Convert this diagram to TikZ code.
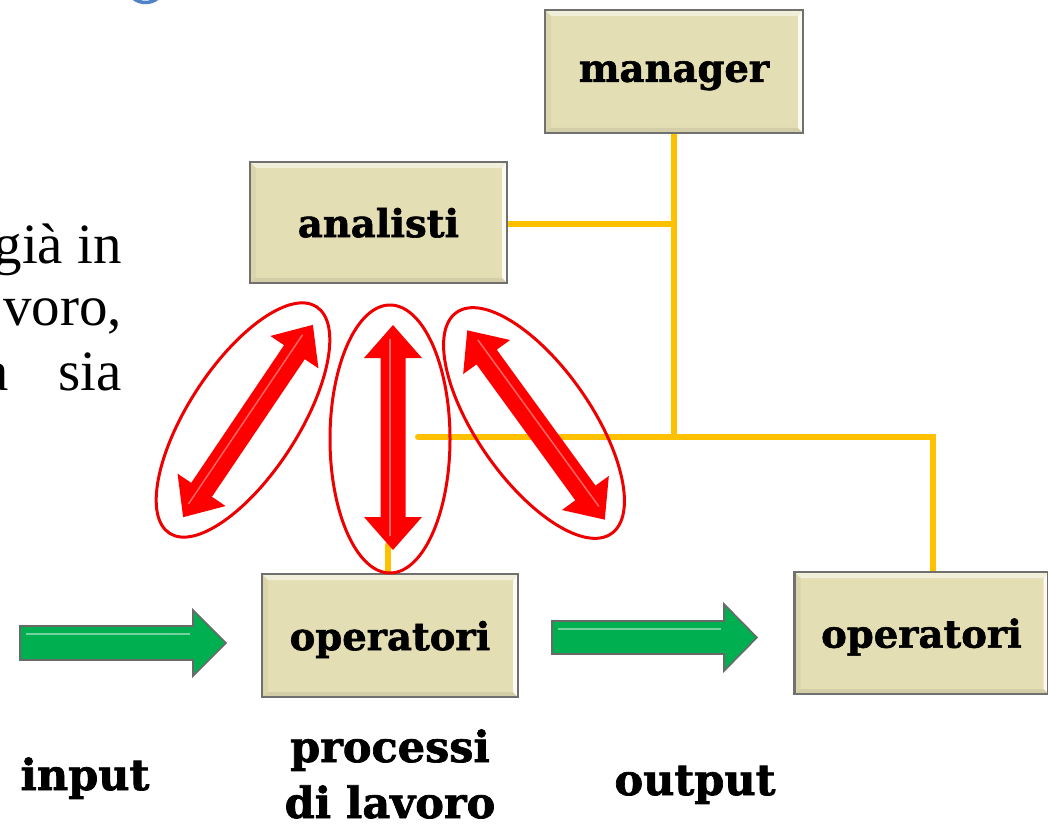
\documentclass[tikz,border=0pt]{standalone}
\usepackage{fontspec}
\setmainfont{Liberation Serif}
\newfontfamily\labelfont{DejaVu Serif}[BoldFeatures={FakeBold=1.6}]

\definecolor{boxfill}{RGB}{228,222,180}
\definecolor{boxline}{RGB}{112,112,112}
\definecolor{linkgold}{RGB}{255,192,0}
\definecolor{flowgreen}{RGB}{0,176,80}
\definecolor{flowedge}{RGB}{105,105,105}
\definecolor{ringred}{RGB}{238,0,0}
\definecolor{titleblue}{RGB}{80,130,200}

\tikzset{
  bevel/.style={path picture={
    \fill[white,opacity=.5] (path picture bounding box.north west) -- (path picture bounding box.north east)
      -- ([shift={(-6pt,-6pt)}]path picture bounding box.north east) -- ([shift={(6pt,-6pt)}]path picture bounding box.north west) -- cycle;
    \fill[white,opacity=.85] (path picture bounding box.north east) -- (path picture bounding box.south east)
      -- ([shift={(-5pt,5pt)}]path picture bounding box.south east) -- ([shift={(-5pt,-6pt)}]path picture bounding box.north east) -- cycle;
    \fill[black,opacity=.07] (path picture bounding box.south west) -- (path picture bounding box.south east)
      -- ([shift={(-5pt,5pt)}]path picture bounding box.south east) -- ([shift={(6pt,5pt)}]path picture bounding box.south west) -- cycle;
    \fill[black,opacity=.04] (path picture bounding box.north west) -- (path picture bounding box.south west)
      -- ([shift={(6pt,5pt)}]path picture bounding box.south west) -- ([shift={(6pt,-6pt)}]path picture bounding box.north west) -- cycle;
  }},
  box/.style={draw=boxline, line width=2.6pt, fill=boxfill, inner sep=0pt, bevel, text depth=0pt,
    font=\labelfont\bfseries\fontsize{38.5}{40}\selectfont},
  caption/.style={font=\labelfont\bfseries\fontsize{43}{52}\selectfont, inner sep=0pt},
  body/.style={font=\fontsize{57}{63}\selectfont, inner sep=0pt},
  link/.style={draw=linkgold, line width=6pt, line cap=round},
  ring/.style={draw=ringred, line width=3pt},
  pics/dblarrow/.style={code={
    \fill[red] (-#1,0) -- (-#1+33,29) -- (-#1+33,12.5) -- (#1-33,12.5) -- (#1-33,29) -- (#1,0)
      -- (#1-33,-29) -- (#1-33,-12.5) -- (-#1+33,-12.5) -- (-#1+33,-29) -- cycle;
    \draw[white,opacity=.4,line width=1.5pt] (-#1+14,-3) -- (#1-14,-3);
  }},
  pics/blockarrow/.style args={#1/#2/#3}{code={
    \filldraw[fill=flowgreen, draw=flowedge, line width=1.6pt, line join=miter]
      (0,-#2) -- (#1-33,-#2) -- (#1-33,-#3) -- (#1,0) -- (#1-33,#3) -- (#1-33,#2) -- (0,#2) -- cycle;
    \draw[white,opacity=.45,line width=2.2pt] (6,-#2+8) -- (#1-36,-#2+8);
  }},
}

\begin{document}
\begin{tikzpicture}[x=1pt,y=-1pt]
\useasboundingbox (0,0) rectangle (1048,829);
\clip (0,0) rectangle (1048,829);

% edge of the heading glyph above
\draw[titleblue, line width=3.5pt] (133,-2) .. controls (140,4) and (151,4) .. (158,-2);

% body text running off the left edge
\node[body, anchor=base east] (lineA) at (122,263) {già in};
\node[body, anchor=base east] (lineB) at (122,325) {voro,};
\node[body, anchor=base east] (lineC) at (9,390) {a};
\node[body, anchor=base east] (lineD) at (122,390) {sia};

% reporting lines
\coordinate (hub) at (674,437);
\coordinate (tapL) at (418,437);
\coordinate (tapR) at (933,437);
\coordinate (mgrfoot) at (674,133);
\coordinate (anlink) at (507,224);
\coordinate (opstub) at (388,545);
\draw[link] (mgrfoot) -- (hub);
\draw[link] (anlink) -- (anlink -| hub);
\draw[link] (tapL) -- (tapR) -- (933,572);
\draw[link] (388,574) -- (opstub);

% role boxes
\node[box, minimum width=258pt, minimum height=123pt] (manager) at (674,71.5) {manager};
\node[box, minimum width=257pt, minimum height=121pt] (analisti) at (378.5,222.5) {analisti};
\node[box, minimum width=256pt, minimum height=123pt] (op1) at (390,635.5) {operatori};
\node[box, minimum width=254pt, minimum height=122pt] (op2) at (921.5,633) {operatori};

% rings around the exchanges
\begin{scope}[shift={(243,420)}, rotate=57]
  \draw[ring] (0,0) ellipse [x radius=135, y radius=55];
\end{scope}
\begin{scope}[shift={(390,439)}]
  \draw[ring] (0,0) ellipse [x radius=60, y radius=134];
\end{scope}
\begin{scope}[shift={(534,423)}, rotate=-55]
  \draw[ring] (0,0) ellipse [x radius=135, y radius=57];
\end{scope}

% two-way exchanges
\pic[rotate=56] at (248,421) {dblarrow=116};
\pic[rotate=90] at (393,437.5) {dblarrow=112.5};
\pic[rotate=-54] at (536,425) {dblarrow=117};

% flow arrows
\pic at (20,643) {blockarrow=206/17/33};
\pic at (552,637.5) {blockarrow=205/16.5/33.5};

% captions
\node[caption, anchor=base] (inp) at (85,790) {input};
\node[caption, anchor=base] (procA) at (390,762) {processi};
\node[caption, anchor=base] (procB) at (390,818) {di lavoro};
\node[caption, anchor=base] (outp) at (695,795) {output};
\end{tikzpicture}
\end{document}
